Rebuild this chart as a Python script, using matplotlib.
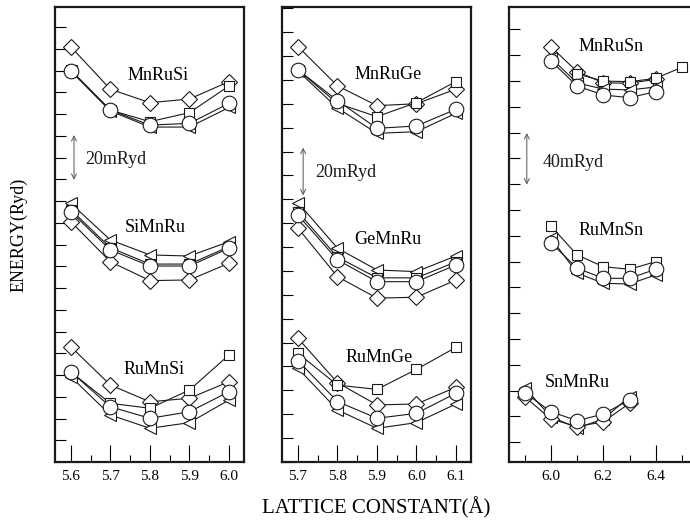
import numpy as np
import matplotlib
matplotlib.use("Agg")
import matplotlib.pyplot as plt
from matplotlib.ticker import MultipleLocator, FixedLocator

plt.rcParams['font.family'] = ['Liberation Serif', 'DejaVu Serif']

# relative total energies in mRyd (arbitrary zero per panel)
# panel 1 : Si compounds
a_si = [5.6, 5.7, 5.8, 5.9, 6.0]
mnrusi_dia = [190.9, 171.4, 165.2, 166.9, 174.9]
mnrusi_sq = [180.2, 161.8, 156.5, 160.6, 172.9]
mnrusi_tri = [179.8, 161.4, 154.0, 154.0, 163.0]
mnrusi_cir = [179.9, 161.8, 154.9, 155.7, 164.9]

simnru_tri = [118.9, 102.1, 95.2, 94.7, 101.3]
simnru_sq = [116.0, 98.5, 91.0, 91.0, 99.0]
simnru_cir = [115.1, 97.5, 90.1, 90.1, 98.3]
simnru_dia = [110.5, 92.1, 83.4, 83.7, 91.4]

rumnsi_dia = [53.0, 35.4, 27.7, 29.3, 36.9]
rumnsi_sq = [41.4, 27.0, 24.7, 33.1, 49.2]
rumnsi_cir = [41.5, 25.4, 20.1, 23.1, 32.3]
rumnsi_tri = [39.2, 21.6, 15.5, 18.1, 28.5]

# panel 2 : Ge compounds
a_ge = [5.7, 5.8, 5.9, 6.0, 6.1]
mnruge_dia = [173.9, 157.5, 149.2, 150.0, 156.1]
mnruge_sq = [164.2, 150.1, 144.6, 150.5, 159.3]
mnruge_cir = [164.2, 151.3, 139.7, 140.7, 147.7]
mnruge_tri = [163.7, 148.2, 137.6, 138.3, 146.0]

gemnru_tri = [108.6, 89.5, 80.4, 79.7, 86.3]
gemnru_sq = [104.7, 85.8, 77.1, 77.1, 83.8]
gemnru_cir = [103.4, 84.6, 75.5, 75.5, 82.5]
gemnru_dia = [97.9, 77.6, 68.6, 69.0, 76.2]

rumnge_dia = [51.8, 33.2, 23.9, 24.3, 31.3]
rumnge_sq = [45.5, 32.2, 30.4, 38.8, 48.0]
rumnge_cir = [42.4, 25.3, 18.3, 20.4, 28.8]
rumnge_tri = [39.2, 21.8, 14.1, 16.5, 24.3]

# panel 3 : Sn compounds
a_sn = [6.0, 6.1, 6.2, 6.3, 6.4]
a_sn_sq = [6.1, 6.2, 6.3, 6.4, 6.5]
mnrusn_dia = [321.9, 302.6, 294.0, 293.6, 296.7]
mnrusn_sq = [300.8, 295.3, 294.8, 297.4, 306.0]
mnrusn_tri = [313.2, 293.8, 289.1, 288.4, 290.7]
mnrusn_cir = [310.9, 291.5, 284.5, 282.4, 287.1]

rumnsn_sq = [182.9, 160.5, 151.4, 149.4, 155.3]
rumnsn_tri = [173.6, 146.5, 138.5, 138.0, 145.0]
rumnsn_cir = [170.0, 150.2, 142.4, 142.4, 149.4]

a_snmnru = [5.9, 6.0, 6.1, 6.2, 6.3]
snmnru_tri = [57.4, 35.1, 26.4, 33.3, 50.6]
snmnru_dia = [50.6, 33.3, 27.4, 31.2, 45.5]
snmnru_cir = [53.7, 39.0, 32.0, 37.2, 48.1]

INK = '#1a1a1a'
STY = {
    'D': dict(marker='D', ms=8.0),
    's': dict(marker='s', ms=7.5),
    '<': dict(marker='<', ms=8.5),
    'o': dict(marker='o', ms=10.5),
}


def curve(ax, x, y, m):
    ax.plot(x, y, color=INK, lw=0.8, mfc='white', mec=INK, mew=0.8, **STY[m])


def frame(ax, xlim, ylim, ystep, yoff=0):
    ax.set_xlim(*xlim)
    ax.set_ylim(*ylim)
    ax.yaxis.set_major_locator(FixedLocator(np.arange(yoff, ylim[1], ystep)))
    ax.set_yticklabels([])
    ax.tick_params(axis='y', which='major', direction='in', length=8,
                   width=0.8, left=True, right=False)
    ax.tick_params(axis='x', which='major', direction='in', length=12,
                   width=0.8, labelsize=11, pad=6, top=False)
    ax.tick_params(axis='x', which='minor', direction='in', length=5,
                   width=0.8, top=False)
    for s in ax.spines.values():
        s.set_linewidth(1.6)
        s.set_color(INK)


def scale_bar(ax, x, y0, y1, label, tx, ty):
    ax.annotate('', xy=(x, y0), xytext=(x, y1),
                arrowprops=dict(arrowstyle='<->', lw=0.7, color='#555555',
                                shrinkA=0, shrinkB=0, mutation_scale=9))
    ax.text(tx, ty, label, ha='left', va='center', fontsize=13, color=INK)


fig = plt.figure(figsize=(6.9, 5.21), dpi=100)
ax1 = fig.add_axes([55 / 690, 59 / 521, 189 / 690, 455 / 521])
ax2 = fig.add_axes([282 / 690, 59 / 521, 189 / 690, 455 / 521])
ax3 = fig.add_axes([509 / 690, 59 / 521, 191 / 690, 455 / 521])

# panel 1
for y, m in [(mnrusi_dia, 'D'), (mnrusi_sq, 's'), (mnrusi_tri, '<'), (mnrusi_cir, 'o'),
             (simnru_tri, '<'), (simnru_sq, 's'), (simnru_dia, 'D'), (simnru_cir, 'o'),
             (rumnsi_dia, 'D'), (rumnsi_sq, 's'), (rumnsi_tri, '<'), (rumnsi_cir, 'o')]:
    curve(ax1, a_si, y, m)
frame(ax1, (5.560, 6.038), (0, 209.2), 10)
ax1.xaxis.set_major_locator(FixedLocator([5.6, 5.7, 5.8, 5.9, 6.0]))
ax1.xaxis.set_minor_locator(FixedLocator([5.65, 5.75, 5.85, 5.95]))
ax1.set_xticklabels(['5.6', '5.7', '5.8', '5.9', '6.0'])
ax1.text(5.820, 177.5, 'MnRuSi', ha='center', va='center', fontsize=13)
ax1.text(5.813, 107.6, 'SiMnRu', ha='center', va='center', fontsize=13)
ax1.text(5.810, 42.3, 'RuMnSi', ha='center', va='center', fontsize=13)
scale_bar(ax1, 5.608, 129.7, 150.3, '20mRyd', 5.636, 138.9)
ax1.set_ylabel('ENERGY(Ryd)', fontsize=13, labelpad=16)

# panel 2
for y, m in [(mnruge_dia, 'D'), (mnruge_sq, 's'), (mnruge_tri, '<'), (mnruge_cir, 'o'),
             (gemnru_tri, '<'), (gemnru_sq, 's'), (gemnru_dia, 'D'), (gemnru_cir, 'o'),
             (rumnge_dia, 'D'), (rumnge_sq, 's'), (rumnge_tri, '<'), (rumnge_cir, 'o')]:
    curve(ax2, a_ge, y, m)
frame(ax2, (5.6595, 6.138), (0, 190.5), 10)
ax2.xaxis.set_major_locator(FixedLocator([5.7, 5.8, 5.9, 6.0, 6.1]))
ax2.xaxis.set_minor_locator(FixedLocator([5.75, 5.85, 5.95, 6.05]))
ax2.set_xticklabels(['5.7', '5.8', '5.9', '6.0', '6.1'])
ax2.text(5.928, 162.1, 'MnRuGe', ha='center', va='center', fontsize=13)
ax2.text(5.928, 93.0, 'GeMnRu', ha='center', va='center', fontsize=13)
ax2.text(5.905, 43.6, 'RuMnGe', ha='center', va='center', fontsize=13)
scale_bar(ax2, 5.713, 111.6, 131.6, '20mRyd', 5.743, 121.0)
ax2.set_xlabel('LATTICE CONSTANT(Å)', fontsize=15, labelpad=10)

# panel 3
curve(ax3, a_sn, mnrusn_dia, 'D')
curve(ax3, a_sn_sq, mnrusn_sq, 's')
curve(ax3, a_sn, mnrusn_tri, '<')
curve(ax3, a_sn, mnrusn_cir, 'o')
curve(ax3, a_sn, rumnsn_sq, 's')
curve(ax3, a_sn, rumnsn_tri, '<')
curve(ax3, a_sn, rumnsn_cir, 'o')
curve(ax3, a_snmnru, snmnru_tri, '<')
curve(ax3, a_snmnru, snmnru_dia, 'D')
curve(ax3, a_snmnru, snmnru_cir, 'o')
frame(ax3, (5.84, 6.569), (0, 352.7), 20, yoff=15.3)
ax3.xaxis.set_major_locator(FixedLocator([6.0, 6.2, 6.4]))
ax3.xaxis.set_minor_locator(FixedLocator([5.9, 6.1, 6.3, 6.5]))
ax3.set_xticklabels(['6.0', '6.2', '6.4'])
ax3.text(6.229, 321.7, 'MnRuSn', ha='center', va='center', fontsize=13)
ax3.text(6.229, 179.8, 'RuMnSn', ha='center', va='center', fontsize=13)
ax3.text(6.099, 62.0, 'SnMnRu', ha='center', va='center', fontsize=13)
scale_bar(ax3, 5.908, 215.0, 255.0, '40mRyd', 5.969, 231.8)

fig.savefig('out.png', dpi=100)
